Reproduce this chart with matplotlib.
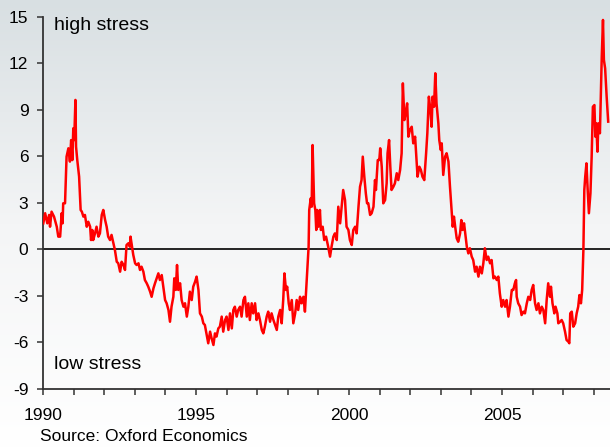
import numpy as np
import matplotlib
matplotlib.use("Agg")
import matplotlib.pyplot as plt
from matplotlib.colors import LinearSegmentedColormap
from matplotlib.ticker import MultipleLocator

plt.rcParams['font.family'] = ['Liberation Sans', 'DejaVu Sans']
plt.rcParams['axes.unicode_minus'] = False

# lectura aproximada de la serie (año decimal, nivel de estrés)
years = [
    1990.01, 1990.07, 1990.14, 1990.20, 1990.23, 1990.28, 1990.36, 1990.45, 1990.50, 1990.56,
    1990.61, 1990.64, 1990.66, 1990.72, 1990.77, 1990.83, 1990.88, 1990.92, 1990.96, 1990.99,
    1991.02, 1991.06, 1991.08, 1991.12, 1991.18, 1991.23, 1991.27, 1991.32, 1991.37, 1991.43,
    1991.48, 1991.54, 1991.57, 1991.61, 1991.64, 1991.70, 1991.75, 1991.81, 1991.86, 1991.92,
    1991.97, 1992.03, 1992.08, 1992.13, 1992.19, 1992.24, 1992.30, 1992.35, 1992.41, 1992.46,
    1992.52, 1992.57, 1992.63, 1992.68, 1992.73, 1992.79, 1992.84, 1992.86, 1992.91, 1992.95,
    1993.01, 1993.06, 1993.12, 1993.17, 1993.22, 1993.28, 1993.33, 1993.39, 1993.44, 1993.50,
    1993.55, 1993.61, 1993.66, 1993.77, 1993.82, 1993.88, 1993.93, 1993.99, 1994.04, 1994.10,
    1994.15, 1994.20, 1994.26, 1994.29, 1994.34, 1994.38, 1994.42, 1994.48, 1994.53, 1994.59,
    1994.64, 1994.70, 1994.75, 1994.80, 1994.86, 1994.91, 1994.97, 1995.02, 1995.08, 1995.13,
    1995.19, 1995.24, 1995.29, 1995.35, 1995.40, 1995.46, 1995.51, 1995.57, 1995.62, 1995.67,
    1995.73, 1995.78, 1995.84, 1995.89, 1995.95, 1996.00, 1996.06, 1996.11, 1996.17, 1996.22,
    1996.27, 1996.33, 1996.38, 1996.44, 1996.49, 1996.55, 1996.60, 1996.66, 1996.71, 1996.76,
    1996.82, 1996.87, 1996.93, 1996.98, 1997.04, 1997.09, 1997.15, 1997.20, 1997.25, 1997.31,
    1997.36, 1997.42, 1997.47, 1997.53, 1997.64, 1997.69, 1997.75, 1997.80, 1997.85, 1997.89,
    1997.94, 1997.98, 1998.03, 1998.07, 1998.13, 1998.18, 1998.24, 1998.29, 1998.34, 1998.40,
    1998.45, 1998.51, 1998.56, 1998.62, 1998.65, 1998.68, 1998.70, 1998.75, 1998.78, 1998.81,
    1998.86, 1998.90, 1998.93, 1998.96, 1999.00, 1999.05, 1999.08, 1999.14, 1999.19, 1999.25,
    1999.32, 1999.38, 1999.43, 1999.49, 1999.54, 1999.60, 1999.65, 1999.71, 1999.76, 1999.81,
    1999.87, 1999.92, 1999.98, 2000.03, 2000.09, 2000.14, 2000.20, 2000.25, 2000.31, 2000.36,
    2000.41, 2000.45, 2000.50, 2000.55, 2000.59, 2000.63, 2000.69, 2000.74, 2000.80, 2000.85,
    2000.88, 2000.94, 2000.99, 2001.02, 2001.07, 2001.12, 2001.18, 2001.23, 2001.26, 2001.31,
    2001.35, 2001.39, 2001.45, 2001.50, 2001.56, 2001.61, 2001.67, 2001.72, 2001.76, 2001.81,
    2001.85, 2001.90, 2001.94, 2001.99, 2002.05, 2002.10, 2002.16, 2002.20, 2002.24, 2002.30,
    2002.35, 2002.40, 2002.46, 2002.52, 2002.56, 2002.61, 2002.66, 2002.70, 2002.73, 2002.78,
    2002.82, 2002.86, 2002.92, 2002.95, 2003.00, 2003.03, 2003.08, 2003.14, 2003.19, 2003.25,
    2003.30, 2003.36, 2003.39, 2003.43, 2003.47, 2003.52, 2003.57, 2003.63, 2003.67, 2003.71,
    2003.76, 2003.80, 2003.85, 2003.90, 2003.95, 2004.01, 2004.06, 2004.12, 2004.17, 2004.23,
    2004.28, 2004.34, 2004.39, 2004.44, 2004.50, 2004.55, 2004.61, 2004.66, 2004.72, 2004.77,
    2004.83, 2004.88, 2004.93, 2004.99, 2005.04, 2005.10, 2005.15, 2005.21, 2005.26, 2005.32,
    2005.37, 2005.42, 2005.46, 2005.48, 2005.53, 2005.59, 2005.64, 2005.70, 2005.75, 2005.81,
    2005.86, 2005.92, 2005.97, 2006.02, 2006.08, 2006.13, 2006.19, 2006.24, 2006.30, 2006.35,
    2006.41, 2006.46, 2006.51, 2006.57, 2006.60, 2006.65, 2006.71, 2006.75, 2006.81, 2006.84,
    2006.90, 2006.95, 2007.00, 2007.06, 2007.11, 2007.17, 2007.20, 2007.23, 2007.28, 2007.33,
    2007.39, 2007.44, 2007.49, 2007.53, 2007.58, 2007.62, 2007.66, 2007.69, 2007.72, 2007.76,
    2007.80, 2007.84, 2007.89, 2007.93, 2007.97, 2008.02, 2008.05, 2008.08, 2008.12, 2008.15,
    2008.20, 2008.26, 2008.30, 2008.33, 2008.37, 2008.42, 2008.47,
]
stress = [
    1.69, 2.34, 1.69, 2.23, 1.47, 2.44, 2.12, 1.47, 0.83, 0.83,
    2.34, 1.69, 2.98, 2.98, 5.99, 6.53, 5.67, 7.06, 5.77, 7.82,
    7.06, 9.65, 6.63, 5.77, 4.70, 2.55, 2.44, 2.12, 2.23, 1.47,
    1.79, 1.47, 0.61, 1.26, 0.61, 1.04, 1.47, 0.83, 1.04, 2.23,
    2.55, 1.90, 1.47, 0.83, 0.61, 0.94, 0.40, -0.03, -0.79, -0.89,
    -1.43, -0.79, -1.00, -1.32, 0.29, 0.40, 0.18, 0.83, 0.18, -0.35,
    -0.89, -1.00, -0.89, -1.32, -1.11, -1.43, -1.97, -2.18, -2.40, -2.72,
    -3.05, -2.50, -2.18, -1.54, -1.97, -1.65, -2.40, -3.26, -3.47, -3.90,
    -4.66, -3.69, -3.05, -1.86, -2.61, -1.00, -2.61, -2.18, -3.26, -3.69,
    -3.47, -4.33, -3.69, -2.72, -3.26, -2.40, -2.08, -1.75, -2.61, -4.12,
    -4.33, -4.76, -4.87, -5.52, -6.05, -5.30, -5.73, -6.16, -5.41, -5.62,
    -5.09, -4.98, -4.33, -5.30, -4.55, -4.33, -5.19, -4.12, -5.09, -3.90,
    -3.69, -4.33, -3.90, -3.69, -4.33, -3.26, -3.05, -4.33, -3.47, -4.55,
    -3.47, -4.12, -3.47, -4.55, -4.12, -4.55, -5.19, -5.41, -4.98, -4.33,
    -4.01, -4.66, -4.12, -4.55, -5.19, -4.33, -3.90, -4.76, -3.26, -1.54,
    -2.61, -2.40, -3.47, -3.90, -3.26, -4.76, -4.12, -3.26, -3.90, -3.05,
    -3.47, -3.05, -4.01, -1.97, -0.89, 0.18, 2.55, 3.30, 2.76, 6.74,
    2.98, 2.55, 1.26, 2.55, 1.47, 2.55, 1.26, 1.47, 0.61, 0.83,
    0.18, -0.46, 0.18, 0.83, 1.04, 0.61, 2.76, 1.69, 2.76, 3.84,
    3.19, 1.47, 1.26, 0.61, 0.29, 1.26, 1.47, 1.04, 2.76, 4.05,
    4.48, 5.99, 4.70, 3.62, 2.98, 2.98, 2.23, 2.34, 2.76, 4.48,
    3.84, 5.77, 5.77, 6.53, 5.34, 2.98, 3.19, 4.27, 6.21, 7.06,
    5.34, 3.84, 4.05, 4.27, 4.92, 4.48, 5.13, 6.21, 10.72, 8.35,
    8.79, 9.43, 7.28, 7.71, 7.92, 6.85, 7.28, 5.99, 4.70, 5.34,
    5.13, 4.70, 4.48, 6.21, 7.50, 9.86, 9.00, 7.92, 9.86, 9.21,
    11.37, 9.43, 8.14, 7.06, 6.42, 6.85, 4.81, 5.99, 6.21, 5.67,
    4.05, 2.34, 1.47, 2.12, 1.47, 0.72, 0.50, 1.04, 1.90, 1.26,
    1.69, 1.04, 0.18, -0.25, 0.08, -0.46, -0.68, -1.43, -1.11, -1.75,
    -1.11, -1.54, -0.89, 0.08, -0.68, -0.46, -0.89, -0.68, -1.86, -1.75,
    -1.97, -1.75, -2.83, -3.69, -3.26, -3.69, -3.26, -4.33, -3.69, -2.61,
    -2.61, -2.18, -1.97, -3.05, -3.47, -3.69, -4.23, -4.01, -4.12, -3.47,
    -3.05, -3.26, -2.61, -2.29, -3.47, -3.90, -3.47, -4.12, -3.69, -3.90,
    -4.76, -3.26, -2.18, -3.05, -2.40, -3.47, -4.12, -3.69, -4.12, -4.76,
    -4.66, -4.55, -4.76, -5.30, -5.84, -5.95, -6.05, -4.12, -4.01, -4.98,
    -4.76, -4.12, -3.69, -2.94, -3.47, -2.61, -0.03, 3.84, 4.70, 5.56,
    3.84, 2.34, 3.62, 5.99, 9.21, 9.32, 7.28, 8.14, 6.31, 8.14,
    7.50, 12.44, 14.81, 12.23, 11.69, 9.86, 8.25,
]
year_ticks = [1990, 1995, 2000, 2005]
y_ticks = [-9, -6, -3, 0, 3, 6, 9, 12, 15]

fig = plt.figure(figsize=(6.1, 4.48), dpi=100)

# fondo degradado de toda la figura
bg = fig.add_axes([0, 0, 1, 1], zorder=0)
cmap = LinearSegmentedColormap.from_list("fondo", ["#ffffff", "#f4f5f6", "#d8dfe2"])
bg.imshow(np.linspace(0, 1, 256).reshape(-1, 1), aspect="auto", cmap=cmap,
          origin="lower", extent=[0, 1, 0, 1])
bg.axis("off")

ax = fig.add_axes([43 / 610, 1 - 389 / 448, 1 - 43 / 610, (389 - 17) / 448], zorder=1)
ax.patch.set_alpha(0)

ax.plot(years, stress, color="#ff0000", linewidth=1.8, zorder=3)
ax.axhline(0, color="black", linewidth=1.2, zorder=2)

ax.set_xlim(1990, 1990 + 567 / 30.6)
ax.set_ylim(-9, 15)
ax.set_xticks(year_ticks)
ax.set_xticklabels([str(y) for y in year_ticks])
ax.xaxis.set_minor_locator(MultipleLocator(1))
ax.set_yticks(y_ticks)

for s in ["top", "right"]:
    ax.spines[s].set_visible(False)
for s in ["left", "bottom"]:
    ax.spines[s].set_color("#333333")
    ax.spines[s].set_linewidth(1.3)

ax.tick_params(axis="x", which="both", direction="out", length=4.5, width=1.1,
               color="#333333", labelsize=12.5, pad=9)
ax.tick_params(axis="y", direction="out", length=4.5, width=1.1,
               color="#333333", labelsize=12.5, pad=6)

ax.text(0.02, 0.978, "high stress", transform=ax.transAxes, fontsize=14, va="center", ha="left")
ax.text(0.02, 0.067, "low stress", transform=ax.transAxes, fontsize=14, va="center", ha="left")
fig.text(40 / 610, 1 - 436 / 448, "Source: Oxford Economics", fontsize=12.5, va="center", ha="left")

fig.savefig("out.png", dpi=100)
